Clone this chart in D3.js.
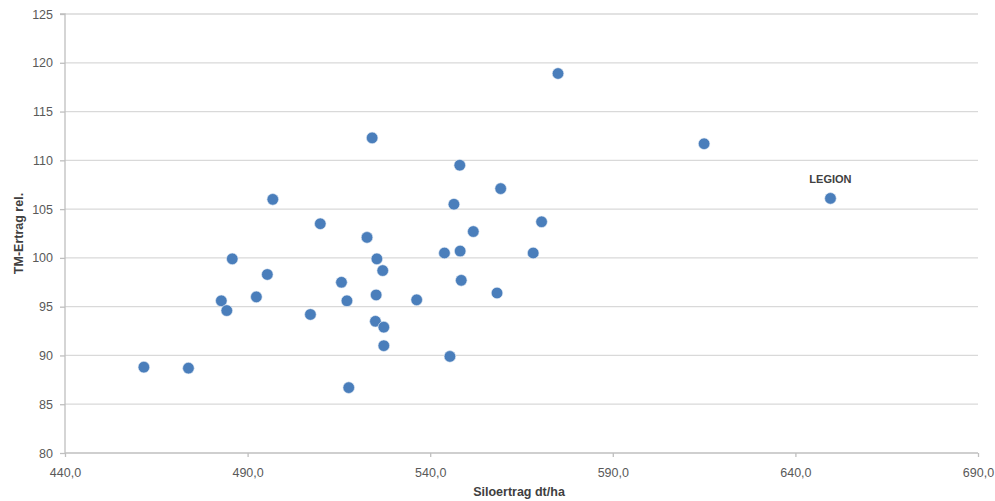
<!DOCTYPE html>
<html><head><meta charset="utf-8">
<script src="https://cdn.jsdelivr.net/npm/d3@7"></script>
<style>body{margin:0;background:#fff}svg{display:block}</style>
</head><body><svg id="c" width="995" height="501"></svg>
<script>
const xValues = [461.6,473.8,482.8,484.3,485.8,492.4,495.4,496.9,507.2,509.9,515.7,517.2,517.7,522.7,524.1,525.0,525.2,525.4,527.0,527.3,527.3,536.3,543.9,545.4,546.5,548.1,548.2,548.5,551.8,558.3,559.3,568.2,570.5,575.0,615.0,649.6];
const yValues = [88.8,88.7,95.6,94.6,99.9,96.0,98.3,106.0,94.2,103.5,97.5,95.6,86.7,102.1,112.3,93.5,96.2,99.9,98.7,92.9,91.0,95.7,100.5,89.9,105.5,109.5,100.7,97.7,102.7,96.4,107.1,100.5,103.7,118.9,111.7,106.1];
const pointLabels = ["","","","","","","","","","","","","","","","","","","","","","","","","","","","","","","","","","","","LEGION"];
const xTicks = [440,490,540,590,640,690];
const yTicks = [80,85,90,95,100,105,110,115,120,125];
const xTitle = "Siloertrag dt/ha";
const yTitle = "TM-Ertrag rel.";

const svg = d3.select("#c");
const L = 65, R = 978, T = 14, B = 453;
const x = d3.scaleLinear().domain([440,690]).range([L,R]);
const y = d3.scaleLinear().domain([80,125]).range([B,T]);
const font = "'Liberation Sans', Arial, sans-serif";
const fmt = d => d3.format(".1f")(d).replace(".", ",");

// gridlines
svg.append("g").selectAll("line").data(yTicks.filter(d=>d>80)).join("line")
  .attr("x1", L).attr("x2", R).attr("y1", d=>y(d)).attr("y2", d=>y(d))
  .attr("stroke", "#d9d9d9").attr("stroke-width", 1.3);

// y axis
const ya = svg.append("g").attr("transform", `translate(${L},0)`)
  .call(d3.axisLeft(y).tickValues(yTicks).tickSize(5).tickPadding(7).tickFormat(d=>d));
ya.select(".domain").attr("stroke", "#bfbfbf").attr("stroke-width", 1.3).attr("d", `M-5,${T}H0V${B}`);
ya.selectAll(".tick line").attr("stroke", "#bfbfbf").attr("stroke-width", 1.3);
ya.selectAll("text").attr("font-family", font).attr("font-size", 12.5).attr("fill", "#595959");

// x axis
const xa = svg.append("g").attr("transform", `translate(0,${B})`)
  .call(d3.axisBottom(x).tickValues(xTicks).tickSize(4).tickPadding(11).tickFormat(fmt));
xa.select(".domain").attr("stroke", "#bfbfbf").attr("stroke-width", 1.3).attr("d", `M${L},0H${R}`);
xa.selectAll(".tick line").attr("stroke", "#bfbfbf").attr("stroke-width", 1.3);
xa.selectAll("text").attr("font-family", font).attr("font-size", 12.5).attr("fill", "#595959");

// titles
svg.append("text").attr("x", 519).attr("y", 496).attr("text-anchor","middle")
  .attr("font-family", font).attr("font-size", 12.5).attr("font-weight","bold").attr("fill","#404040").text(xTitle);
svg.append("text").attr("transform", `translate(23,${(T+B)/2}) rotate(-90)`).attr("text-anchor","middle")
  .attr("font-family", font).attr("font-size", 12.5).attr("font-weight","bold").attr("fill","#404040").text(yTitle);

// points
const data = xValues.map((v,i)=>({x:v, y:yValues[i], label:pointLabels[i]}));
svg.append("g").selectAll("circle").data(data).join("circle")
  .attr("cx", d=>x(d.x)).attr("cy", d=>y(d.y)).attr("r", 5.8)
  .attr("fill", "#4a7ebb").attr("stroke", "#e8eef7").attr("stroke-width", 0.6);

svg.append("g").selectAll("text").data(data.filter(d=>d.label)).join("text")
  .attr("x", d=>x(d.x)).attr("y", d=>y(d.y)-15).attr("text-anchor","middle")
  .attr("font-family", font).attr("font-size", 11).attr("font-weight","bold").attr("fill","#404040")
  .text(d=>d.label);
</script></body></html>
